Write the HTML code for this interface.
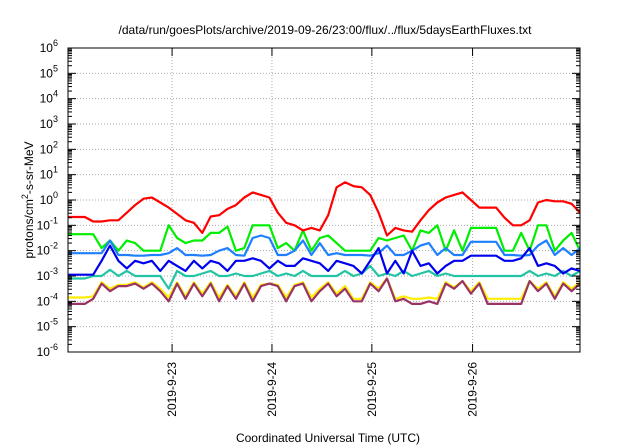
<!DOCTYPE html>
<html><head><meta charset="utf-8"><style>
body{margin:0;background:#fff;}
svg{display:block;font-family:"Liberation Sans",sans-serif;}
</style></head><body>
<svg id="chart" width="640" height="448" viewBox="0 0 640 448" xmlns="http://www.w3.org/2000/svg">
<rect width="640" height="448" fill="#fff"/>
<text x="325" y="34" text-anchor="middle" font-size="12">/data/run/goesPlots/archive/2019-09-26/23:00/flux/../flux/5daysEarthFluxes.txt</text>
<text x="328" y="442" text-anchor="middle" font-size="12">Coordinated Universal Time (UTC)</text>
<text transform="translate(33,200) rotate(-90)" text-anchor="middle" font-size="12">protons/cm<tspan dy="-5" font-size="9">2</tspan><tspan dy="5">-s-sr-MeV</tspan></text>
<g id="grid"></g><g id="series"></g><g id="axes"></g>
</svg>
<script>
const yTickExps=[-6,-5,-4,-3,-2,-1,0,1,2,3,4,5,6];
const xTickLabels=["2019-9-23","2019-9-24","2019-9-25","2019-9-26"];
const xTickIndex=[12.4,24.3,36.2,48.2];
const red=[-0.67,-0.67,-0.67,-0.85,-0.85,-0.8,-0.8,-0.5,-0.2,0.05,0.1,-0.1,-0.3,-0.55,-0.8,-0.9,-1.3,-0.65,-0.6,-0.35,-0.2,0.1,0.3,0.2,0.1,-0.5,-0.9,-1.0,-1.2,-1.1,-1.2,-0.6,0.5,0.7,0.55,0.5,0.2,-0.5,-1.4,-1.1,-1.2,-1.25,-0.8,-0.4,-0.1,0.1,0.2,0.3,0.0,-0.3,-0.3,-0.3,-0.7,-1.0,-1.0,-0.8,-0.1,0.0,-0.05,-0.05,-0.15,-0.5];
const green=[-1.35,-1.35,-1.35,-1.35,-1.9,-1.6,-2.0,-1.6,-1.7,-2.0,-2.0,-2.0,-1.0,-1.5,-1.7,-1.6,-1.6,-1.3,-1.3,-1.05,-2.0,-1.9,-1.0,-1.0,-1.0,-1.9,-1.7,-2.0,-1.2,-2.0,-1.5,-1.4,-1.7,-2.0,-2.0,-2.0,-2.0,-1.5,-1.6,-1.5,-1.4,-2.0,-1.2,-1.3,-1.0,-2.0,-1.2,-2.0,-1.1,-1.1,-1.1,-1.1,-2.0,-2.0,-1.3,-2.0,-1.0,-1.0,-2.0,-1.6,-1.3,-2.0];
const lightBlue=[-2.1,-2.1,-2.1,-2.1,-2.1,-1.6,-2.17,-2.17,-2.2,-2.2,-2.17,-2.17,-2.1,-1.9,-2.17,-2.17,-2.2,-2.17,-2.0,-1.9,-2.17,-2.2,-1.5,-1.4,-1.5,-2.17,-2.17,-2.0,-1.6,-2.17,-1.7,-2.17,-2.1,-2.17,-2.17,-2.17,-2.2,-2.1,-1.8,-2.17,-2.17,-2.0,-1.8,-1.7,-2.17,-1.9,-2.17,-2.17,-1.65,-1.65,-1.65,-1.65,-2.17,-2.17,-2.2,-2.17,-1.8,-1.6,-2.17,-1.9,-2.17,-1.9];
const darkBlue=[-2.95,-2.95,-2.95,-2.95,-2.4,-1.8,-2.4,-2.7,-2.4,-2.5,-2.4,-2.8,-2.4,-2.6,-2.8,-2.4,-2.7,-2.4,-2.5,-2.8,-2.4,-2.4,-2.3,-2.4,-2.7,-2.4,-2.6,-2.6,-2.3,-2.4,-2.5,-2.8,-2.4,-2.5,-2.6,-2.9,-2.4,-1.9,-2.9,-2.4,-2.9,-2.0,-2.6,-2.5,-2.9,-2.6,-2.4,-2.4,-2.2,-2.2,-2.2,-2.2,-2.4,-2.4,-2.3,-1.9,-2.6,-2.5,-2.6,-2.9,-2.7,-2.8];
const teal=[-3.1,-3.1,-3.1,-3.0,-3.0,-2.75,-3.0,-2.8,-3.0,-3.0,-3.0,-3.0,-3.5,-2.8,-3.0,-3.0,-2.9,-2.8,-3.0,-3.0,-2.9,-3.0,-3.0,-2.9,-2.8,-3.0,-2.9,-3.0,-2.8,-3.0,-3.0,-3.0,-3.0,-2.8,-3.0,-2.9,-2.6,-3.0,-2.9,-3.0,-2.8,-3.0,-2.9,-2.8,-3.0,-2.9,-3.0,-3.0,-3.0,-3.0,-3.0,-3.0,-3.0,-3.0,-3.0,-2.8,-3.0,-2.9,-3.0,-2.8,-3.0,-2.8];
const yellow=[-3.85,-3.85,-3.85,-3.8,-3.25,-3.5,-3.35,-3.35,-3.25,-3.45,-3.25,-3.5,-3.85,-3.25,-3.8,-3.25,-3.7,-3.25,-3.85,-3.35,-3.8,-3.25,-3.85,-3.35,-3.3,-3.35,-3.85,-3.35,-3.25,-3.85,-3.5,-3.25,-3.7,-3.4,-3.9,-3.9,-3.25,-3.5,-3.1,-3.9,-3.8,-3.9,-3.9,-3.85,-3.9,-3.25,-3.45,-3.2,-3.6,-3.25,-3.9,-3.9,-3.9,-3.9,-3.9,-3.2,-3.5,-3.25,-3.8,-3.25,-3.5,-3.25];
const maroon=[-4.1,-4.1,-4.1,-3.9,-3.3,-3.6,-3.4,-3.4,-3.3,-3.5,-3.3,-3.6,-4.0,-3.3,-3.9,-3.3,-3.8,-3.3,-4.0,-3.4,-3.9,-3.3,-4.0,-3.4,-3.3,-3.4,-4.0,-3.4,-3.3,-4.0,-3.6,-3.3,-3.8,-3.5,-4.0,-4.0,-3.3,-3.6,-3.1,-4.0,-3.9,-4.1,-4.1,-4.0,-4.1,-3.3,-3.5,-3.2,-3.7,-3.3,-4.1,-4.1,-4.1,-4.1,-4.1,-3.2,-3.6,-3.3,-3.9,-3.3,-3.6,-3.3];

const L=68,R=580,T=48,B=352,N=62;
const NS="http://www.w3.org/2000/svg";
function xS(i){return L+(R-L)*i/(N-1);}
function yS(e){return B-(B-T)*(e+6)/12;}
function mk(tag,attrs,parent){const el=document.createElementNS(NS,tag);for(const k in attrs)el.setAttribute(k,attrs[k]);parent.appendChild(el);return el;}
const grid=document.getElementById('grid'),axes=document.getElementById('axes'),ser=document.getElementById('series');
yTickExps.forEach(e=>{
  const y=yS(e);
  if(e>-6&&e<6){const g=mk('line',{x1:L,x2:R,y1:y,y2:y,stroke:'#aaa','stroke-dasharray':'1,2'},grid);
  
  }
  mk('line',{x1:L,x2:L+8,y1:y,y2:y,stroke:'#000'},axes);
  mk('line',{x1:R-8,x2:R,y1:y,y2:y,stroke:'#000'},axes);
  const t=mk('text',{x:L-10,y:y+4,'text-anchor':'end','font-size':'12'},axes);
  
  
  t.textContent='10';
  const s=mk('tspan',{dy:'-6','font-size':'9'},t);s.textContent=String(e);
  if(e<6){for(let m=2;m<10;m++){const ym=yS(e+Math.log10(m));
    mk('line',{x1:L,x2:L+4,y1:ym,y2:ym,stroke:'#000'},axes);
    mk('line',{x1:R-4,x2:R,y1:ym,y2:ym,stroke:'#000'},axes);}}
});
xTickLabels.forEach((lab,k)=>{
  const x=xS(xTickIndex[k]);
  const g=mk('line',{x1:x,x2:x,y1:T,y2:B,stroke:'#aaa','stroke-dasharray':'1,2'},grid);
  
  
  mk('line',{x1:x,x2:x,y1:B-8,y2:B,stroke:'#000'},axes);
  mk('line',{x1:x,x2:x,y1:T,y2:T+8,stroke:'#000'},axes);
  const t=mk('text',{transform:`translate(${x+4},362) rotate(-90)`,'text-anchor':'end','font-size':'12'},axes);
  
  
  t.textContent=lab;
});
const fr=mk('rect',{x:L,y:T,width:R-L,height:B-T,fill:'none',stroke:'#000'},axes);


const list=[[maroon,'#993366','series-maroon'],[yellow,'#ffee00','series-yellow'],[teal,'#22c4a4','series-teal'],[darkBlue,'#0000ee','series-dark-blue'],[lightBlue,'#1e7fff','series-light-blue'],[green,'#00ee00','series-green'],[red,'#ff0000','series-red']];
const order=[1,0,2,5,4,3,6];
order.forEach(k=>{const [d,c,n]=list[k];
  const pts=d.map((v,i)=>xS(i).toFixed(1)+','+yS(v).toFixed(1)).join(' ');
  const p=mk('polyline',{points:pts,fill:'none',stroke:c,'stroke-width':'2.2','stroke-linejoin':'round'},ser);
  
  
});
</script>
</body></html>
